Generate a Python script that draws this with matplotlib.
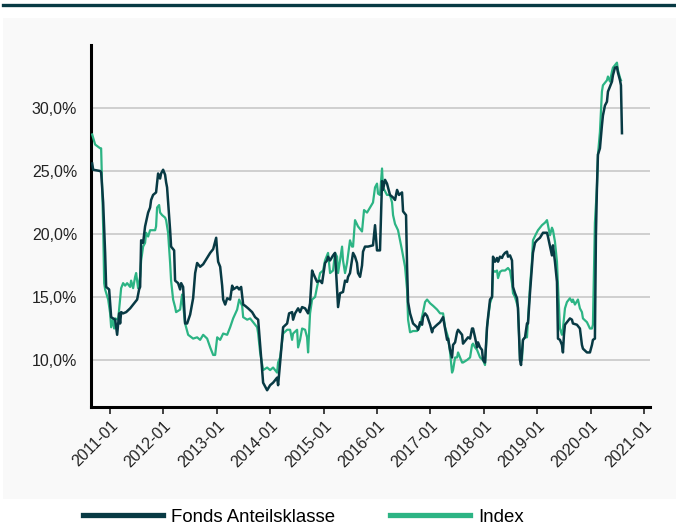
import matplotlib
matplotlib.use("Agg")
import matplotlib.pyplot as plt
import matplotlib.dates as mdates
from matplotlib.lines import Line2D
from matplotlib.patches import Rectangle
import pandas as pd
import numpy as np

# ---- data (decimal year, volatility in %) ----
fund_t = [2010.663, 2010.682, 2010.813, 2010.831, 2010.869, 2010.906, 2010.925, 2010.981, 2011.019, 2011.056,
          2011.094, 2011.112, 2011.131, 2011.169, 2011.187, 2011.206, 2011.243, 2011.300, 2011.375, 2011.431,
          2011.468, 2011.506, 2011.543, 2011.562, 2011.581, 2011.618, 2011.655, 2011.712, 2011.749, 2011.768,
          2011.805, 2011.861, 2011.899, 2011.936, 2011.955, 2011.993, 2012.030, 2012.049, 2012.067, 2012.124,
          2012.142, 2012.199, 2012.217, 2012.273, 2012.311, 2012.330, 2012.367, 2012.404, 2012.442, 2012.498,
          2012.554, 2012.592, 2012.629, 2012.685, 2012.742, 2012.816, 2012.873, 2012.929, 2012.985, 2013.004,
          2013.022, 2013.060, 2013.097, 2013.116, 2013.154, 2013.191, 2013.247, 2013.285, 2013.303, 2013.378,
          2013.416, 2013.453, 2013.491, 2013.528, 2013.584, 2013.659, 2013.715, 2013.772, 2013.809, 2013.865,
          2013.940, 2013.996, 2014.052, 2014.127, 2014.146, 2014.184, 2014.240, 2014.315, 2014.352, 2014.408,
          2014.427, 2014.464, 2014.521, 2014.558, 2014.596, 2014.652, 2014.708, 2014.745, 2014.783, 2014.801,
          2014.876, 2014.933, 2014.970, 2015.026, 2015.064, 2015.082, 2015.120, 2015.176, 2015.213, 2015.251,
          2015.270, 2015.307, 2015.363, 2015.401, 2015.438, 2015.457, 2015.494, 2015.551, 2015.588, 2015.625,
          2015.644, 2015.682, 2015.719, 2015.738, 2015.775, 2015.831, 2015.925, 2015.963, 2016.000, 2016.056,
          2016.094, 2016.112, 2016.150, 2016.187, 2016.243, 2016.300, 2016.337, 2016.375, 2016.412, 2016.468,
          2016.487, 2016.543, 2016.562, 2016.581, 2016.618, 2016.674, 2016.749, 2016.768, 2016.805, 2016.843,
          2016.861, 2016.899, 2016.936, 2016.993, 2017.030, 2017.049, 2017.124, 2017.180, 2017.236, 2017.273,
          2017.311, 2017.330, 2017.367, 2017.404, 2017.423, 2017.461, 2017.498, 2017.517, 2017.592, 2017.610,
          2017.667, 2017.704, 2017.742, 2017.779, 2017.798, 2017.835, 2017.873, 2017.891, 2017.929, 2017.966,
          2017.985, 2018.022, 2018.060, 2018.079, 2018.116, 2018.154, 2018.172, 2018.210, 2018.247, 2018.266,
          2018.303, 2018.341, 2018.360, 2018.397, 2018.434, 2018.453, 2018.491, 2018.528, 2018.547, 2018.584,
          2018.622, 2018.640, 2018.678, 2018.697, 2018.734, 2018.772, 2018.809, 2018.828, 2018.865, 2018.903,
          2018.921, 2018.959, 2018.996, 2019.052, 2019.109, 2019.184, 2019.202, 2019.277, 2019.296, 2019.333,
          2019.371, 2019.390, 2019.427, 2019.464, 2019.483, 2019.502, 2019.521, 2019.558, 2019.614, 2019.652,
          2019.670, 2019.745, 2019.801, 2019.839, 2019.858, 2019.933, 2019.989, 2020.027, 2020.045, 2020.082,
          2020.101, 2020.120, 2020.139, 2020.176, 2020.213, 2020.232, 2020.270, 2020.307, 2020.326, 2020.363,
          2020.401, 2020.419, 2020.457, 2020.494, 2020.513, 2020.551, 2020.569, 2020.588]
fund_v = [25.6, 25.1, 25.0, 24.9, 22.5, 18.5, 15.8, 15.6, 13.4, 13.3,
          13.2, 12.6, 12.0, 13.7, 12.9, 13.8, 13.7, 13.8, 14.1, 14.4,
          14.6, 14.8, 15.6, 15.8, 19.5, 19.3, 20.6, 21.7, 22.1, 22.7,
          23.1, 23.3, 24.8, 24.4, 24.8, 25.1, 24.7, 24.1, 23.7, 20.3,
          19.0, 18.7, 16.3, 16.1, 15.6, 16.1, 15.8, 12.9, 12.9, 13.6,
          14.9, 16.9, 17.7, 17.4, 17.6, 18.1, 18.5, 18.8, 19.7, 18.6,
          17.8, 17.4, 15.9, 14.8, 14.4, 14.9, 14.8, 15.9, 15.6, 15.8,
          15.6, 15.8, 14.4, 14.3, 14.1, 13.8, 13.4, 13.2, 11.2, 8.2,
          7.6, 8.0, 8.2, 8.6, 8.0, 9.8, 12.6, 12.9, 13.7, 13.8,
          13.2, 13.7, 14.1, 13.8, 14.2, 14.1, 13.7, 14.5, 17.1, 16.9,
          16.2, 16.3, 16.1, 17.7, 17.9, 18.2, 17.9, 18.3, 18.5, 15.6,
          14.2, 15.3, 15.4, 16.3, 16.2, 16.6, 16.9, 18.5, 18.2, 17.7,
          16.9, 16.6, 17.5, 18.6, 19.0, 19.0, 19.1, 20.7, 18.7, 18.7,
          24.2, 23.5, 24.3, 24.0, 23.1, 22.9, 22.7, 23.5, 23.1, 23.3,
          21.8, 21.5, 17.4, 14.6, 13.7, 12.9, 12.6, 12.4, 13.0, 12.8,
          13.4, 13.7, 13.5, 12.8, 12.2, 12.5, 12.8, 13.0, 13.4, 12.5,
          11.6, 11.7, 10.8, 10.2, 11.2, 11.4, 12.2, 12.4, 12.0, 11.3,
          11.6, 11.8, 11.7, 12.5, 12.5, 11.8, 11.0, 11.4, 11.0, 10.8,
          10.0, 9.8, 12.6, 13.4, 14.8, 15.0, 18.2, 17.8, 18.1, 17.8,
          18.2, 18.1, 18.3, 18.5, 18.6, 18.2, 18.3, 17.9, 15.8, 15.3,
          14.9, 14.1, 10.0, 9.6, 11.6, 11.8, 12.9, 12.9, 15.3, 17.4,
          18.5, 19.3, 19.5, 19.7, 20.1, 20.1, 19.8, 18.3, 19.1, 17.8,
          16.2, 11.7, 11.6, 11.2, 10.6, 12.0, 12.8, 13.0, 13.3, 13.2,
          12.9, 12.8, 12.5, 11.2, 10.9, 10.6, 10.6, 11.2, 11.6, 11.7,
          19.9, 23.7, 26.3, 26.8, 28.6, 29.4, 30.2, 30.5, 31.3, 31.7,
          32.1, 32.6, 33.2, 33.25, 32.8, 32.2, 31.8, 28.0]

index_t = [2010.663, 2010.719, 2010.813, 2010.831, 2010.850, 2010.869, 2010.888, 2010.906, 2010.963, 2011.000,
           2011.019, 2011.056, 2011.075, 2011.094, 2011.150, 2011.187, 2011.206, 2011.243, 2011.281, 2011.318,
           2011.375, 2011.393, 2011.431, 2011.468, 2011.487, 2011.524, 2011.562, 2011.581, 2011.618, 2011.655,
           2011.674, 2011.712, 2011.749, 2011.843, 2011.861, 2011.880, 2011.918, 2011.936, 2011.974, 2012.030,
           2012.049, 2012.086, 2012.124, 2012.142, 2012.180, 2012.217, 2012.236, 2012.311, 2012.348, 2012.404,
           2012.461, 2012.554, 2012.629, 2012.685, 2012.742, 2012.816, 2012.873, 2012.929, 2012.966, 2013.004,
           2013.060, 2013.116, 2013.191, 2013.247, 2013.303, 2013.378, 2013.416, 2013.472, 2013.491, 2013.566,
           2013.622, 2013.678, 2013.753, 2013.772, 2013.809, 2013.865, 2013.940, 2013.996, 2014.052, 2014.127,
           2014.146, 2014.184, 2014.240, 2014.315, 2014.371, 2014.408, 2014.427, 2014.502, 2014.521, 2014.558,
           2014.596, 2014.652, 2014.689, 2014.708, 2014.745, 2014.783, 2014.839, 2014.876, 2014.933, 2014.989,
           2015.026, 2015.082, 2015.120, 2015.176, 2015.213, 2015.251, 2015.270, 2015.307, 2015.345, 2015.363,
           2015.401, 2015.438, 2015.494, 2015.532, 2015.551, 2015.588, 2015.644, 2015.719, 2015.757, 2015.813,
           2015.869, 2015.925, 2015.963, 2016.000, 2016.019, 2016.056, 2016.094, 2016.112, 2016.187, 2016.243,
           2016.281, 2016.300, 2016.337, 2016.393, 2016.468, 2016.524, 2016.562, 2016.581, 2016.618, 2016.674,
           2016.749, 2016.805, 2016.861, 2016.899, 2016.936, 2016.993, 2017.049, 2017.124, 2017.180, 2017.236,
           2017.273, 2017.330, 2017.367, 2017.404, 2017.423, 2017.461, 2017.498, 2017.517, 2017.554, 2017.592,
           2017.610, 2017.685, 2017.742, 2017.779, 2017.798, 2017.835, 2017.873, 2017.929, 2017.985, 2018.022,
           2018.060, 2018.079, 2018.116, 2018.154, 2018.172, 2018.210, 2018.247, 2018.266, 2018.303, 2018.341,
           2018.397, 2018.453, 2018.491, 2018.528, 2018.547, 2018.584, 2018.640, 2018.678, 2018.715, 2018.734,
           2018.772, 2018.809, 2018.828, 2018.865, 2018.903, 2018.921, 2018.978, 2019.015, 2019.090, 2019.146,
           2019.184, 2019.202, 2019.240, 2019.277, 2019.296, 2019.333, 2019.371, 2019.390, 2019.427, 2019.464,
           2019.483, 2019.521, 2019.558, 2019.614, 2019.652, 2019.670, 2019.708, 2019.764, 2019.801, 2019.839,
           2019.858, 2019.933, 2019.989, 2020.027, 2020.045, 2020.082, 2020.120, 2020.139, 2020.176, 2020.213,
           2020.232, 2020.307, 2020.326, 2020.363, 2020.401, 2020.419, 2020.494, 2020.513, 2020.551, 2020.569]
index_v = [27.9, 27.1, 26.8, 26.8, 23.7, 20.6, 16.1, 15.6, 14.8, 13.7,
           12.6, 13.2, 12.5, 13.3, 13.2, 14.8, 15.7, 16.1, 15.9, 16.1,
           15.8, 16.3, 15.7, 16.6, 16.9, 15.7, 16.6, 17.9, 19.0, 19.3,
           20.1, 19.8, 20.3, 20.3, 20.6, 22.1, 22.3, 21.7, 21.5, 21.3,
           21.1, 20.1, 17.7, 16.3, 14.8, 14.2, 13.8, 14.0, 15.2, 12.9,
           12.0, 11.7, 11.8, 11.6, 12.0, 11.7, 11.0, 10.4, 10.4, 11.8,
           11.6, 12.1, 12.0, 12.6, 13.3, 14.0, 14.8, 14.3, 13.4, 13.2,
           13.3, 13.0, 12.6, 12.1, 10.6, 9.2, 9.4, 9.2, 9.4, 9.0,
           9.8, 10.2, 12.1, 12.4, 12.4, 11.6, 12.1, 12.4, 11.0, 11.6,
           12.5, 12.4, 11.8, 10.6, 13.7, 14.8, 15.0, 15.8, 16.9, 17.1,
           17.9, 18.5, 16.9, 17.1, 18.5, 18.2, 16.9, 17.9, 19.0, 17.9,
           16.9, 17.7, 19.5, 19.0, 19.0, 21.1, 20.6, 20.2, 21.9, 21.7,
           22.1, 22.5, 23.7, 24.0, 23.2, 23.1, 25.2, 23.7, 23.1, 23.1,
           22.5, 21.5, 20.8, 20.3, 18.7, 17.4, 15.6, 13.2, 12.2, 12.3,
           12.3, 12.7, 13.8, 14.6, 14.8, 14.5, 14.3, 14.0, 13.7, 13.7,
           12.6, 11.8, 10.6, 9.0, 9.2, 10.2, 10.2, 10.6, 10.2, 9.8,
           9.8, 10.0, 10.2, 11.2, 11.3, 11.0, 10.8, 10.2, 10.0, 9.6,
           12.6, 13.3, 14.5, 15.0, 17.1, 17.0, 17.1, 16.5, 17.0, 17.1,
           17.1, 17.3, 17.1, 16.1, 15.3, 15.0, 14.2, 10.0, 10.0, 11.6,
           11.8, 11.8, 13.2, 15.8, 17.9, 19.5, 20.0, 20.3, 20.7, 20.9,
           21.1, 20.7, 19.9, 20.5, 20.3, 19.4, 17.8, 15.9, 12.5, 12.0,
           12.5, 14.1, 14.6, 14.9, 14.6, 14.8, 14.4, 14.8, 14.1, 13.8,
           13.3, 13.0, 12.5, 12.5, 12.8, 20.9, 23.7, 26.3, 28.1, 31.3,
           31.8, 32.2, 32.5, 32.1, 32.9, 33.2, 33.6, 33.0, 32.4, 32.2]

series_names = ["Fonds Anteilsklasse", "Index"]
tick_years = list(range(2011, 2022))


def to_dates(ts):
    out = []
    for t in ts:
        y = int(np.floor(t))
        start = pd.Timestamp(year=y, month=1, day=1)
        days = (pd.Timestamp(year=y + 1, month=1, day=1) - start).days
        out.append(start + pd.Timedelta(days=(t - y) * days))
    return out


fund_d = to_dates(fund_t)
index_d = to_dates(index_t)

FUND_C = "#083a44"
INDEX_C = "#2cb484"

plt.rcParams["font.family"] = ["Liberation Sans", "DejaVu Sans"]

W, H = 676, 530
fig = plt.figure(figsize=(W / 100, H / 100), dpi=100)
fig.patch.set_facecolor("white")

# background panel and top rule
fig.patches.append(Rectangle((3 / W, 1 - 499 / H), 1, (499 - 18) / H, transform=fig.transFigure,
                             facecolor="#f9f9f9", edgecolor="none", zorder=-5))
fig.add_artist(Line2D([0.005, 1], [1 - 4.5 / H, 1 - 4.5 / H], transform=fig.transFigure,
                      color=FUND_C, linewidth=2.4))

ax = fig.add_axes([91 / W, 1 - 407 / H, (650 - 91) / W, (407 - 45) / H])
ax.set_facecolor("none")

ax.plot(index_d, index_v, color=INDEX_C, linewidth=1.6, label=series_names[1], zorder=3)
ax.plot(fund_d, fund_v, color=FUND_C, linewidth=1.8, label=series_names[0], zorder=4)

ax.set_xlim(pd.Timestamp("2010-08-23"), pd.Timestamp("2021-02-11"))
ax.set_ylim(6.27, 35.0)

ax.set_yticks([10, 15, 20, 25, 30])
ax.set_yticklabels([f"{v},0%" for v in [10, 15, 20, 25, 30]])
ax.yaxis.grid(True, color="#c8c8c8", linewidth=1.2)
ax.set_axisbelow(True)
ax.tick_params(axis="y", length=0, pad=10, labelsize=11.5, colors="#222222")

ax.set_xticks([pd.Timestamp(year=y, month=1, day=1) for y in tick_years])
ax.xaxis.set_major_formatter(mdates.DateFormatter("%Y-%m"))
ax.tick_params(axis="x", length=5, width=1.2, pad=3, labelsize=11.5, colors="#222222")
for lab in ax.get_xticklabels():
    lab.set_rotation(45)
    lab.set_ha("right")
    lab.set_rotation_mode("anchor")

for s in ["top", "right"]:
    ax.spines[s].set_visible(False)
for s in ["left", "bottom"]:
    ax.spines[s].set_linewidth(2.2)
    ax.spines[s].set_color("black")

handles = [Line2D([], [], color=FUND_C, linewidth=3.8), Line2D([], [], color=INDEX_C, linewidth=3.8)]
fig.legend(handles, series_names, loc="center left", bbox_to_anchor=(83 / W, 1 - 517 / H),
           ncol=2, frameon=False, fontsize=13.4, handlelength=4.3, handletextpad=0.45,
           columnspacing=2.9, borderpad=0, borderaxespad=0)

fig.savefig("out.png", dpi=100, facecolor="white")
